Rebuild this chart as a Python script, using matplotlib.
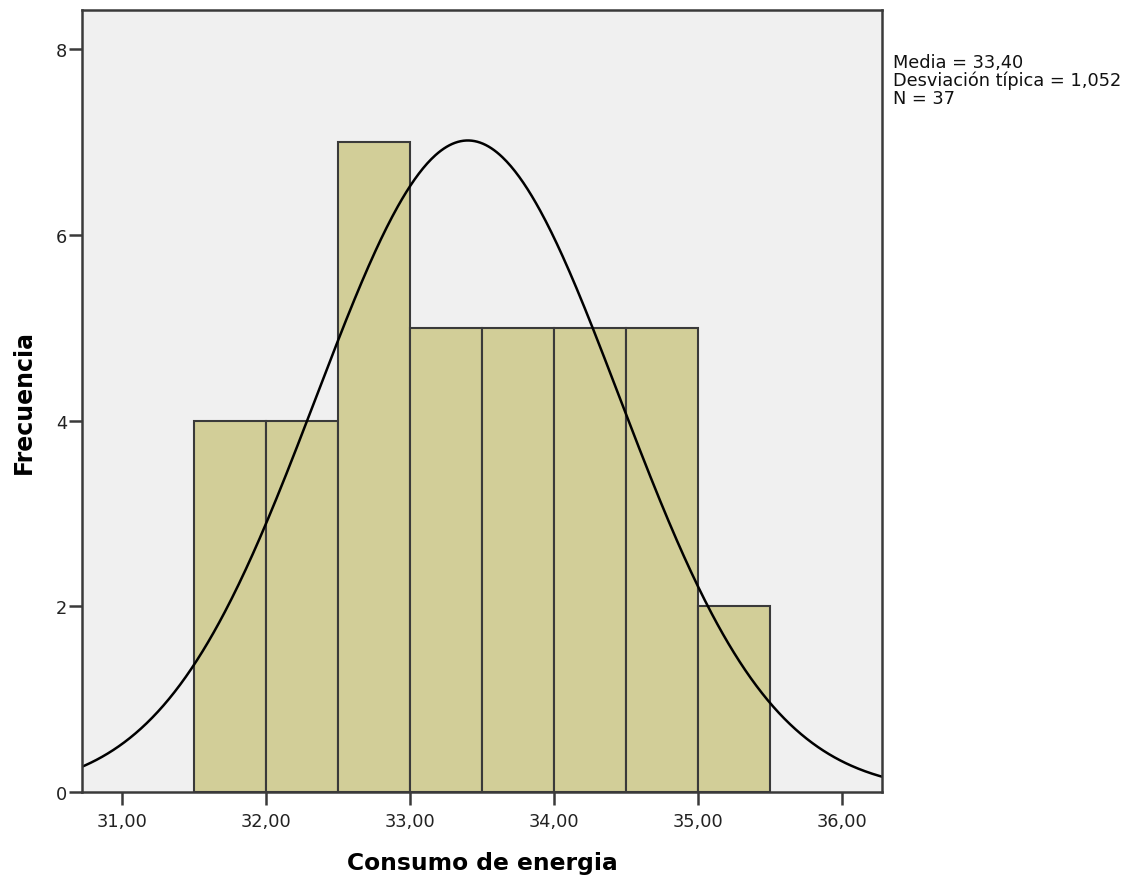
import numpy as np
import matplotlib
matplotlib.use("Agg")
import matplotlib.pyplot as plt

# Histogram of energy consumption with a fitted normal curve
bin_edges = [31.5, 32.0, 32.5, 33.0, 33.5, 34.0, 34.5, 35.0, 35.5]
counts = [4, 4, 7, 5, 5, 5, 5, 2]
mean = 33.40
std = 1.052
n = 37

x_ticks = [31, 32, 33, 34, 35, 36]
x_tick_labels = ["31,00", "32,00", "33,00", "34,00", "35,00", "36,00"]
y_ticks = [0, 2, 4, 6, 8]
y_tick_labels = ["0", "2", "4", "6", "8"]

plt.rcParams["font.family"] = ["DejaVu Sans"]

fig = plt.figure(figsize=(11.34, 8.79), dpi=100)
ax = fig.add_axes([0.072, 0.0975, 0.706, 0.89])
ax.set_facecolor("#F0F0F0")

edges = np.array(bin_edges)
widths = np.diff(edges)
ax.bar(edges[:-1], counts, width=widths, align="edge",
       color="#D2CE98", edgecolor="#3A3A3A", linewidth=1.5, zorder=2)

# Normal curve scaled to counts per bin
bw = widths[0]
xs = np.linspace(30.6, 36.4, 600)
ys = n * bw / (std * np.sqrt(2 * np.pi)) * np.exp(-0.5 * ((xs - mean) / std) ** 2)
ax.plot(xs, ys, color="black", linewidth=1.8, zorder=3)

ax.set_xlim(30.72, 36.276)
ax.set_ylim(0, 8.42)
ax.set_xticks(x_ticks)
ax.set_xticklabels(x_tick_labels)
ax.set_yticks(y_ticks)
ax.set_yticklabels(y_tick_labels)
ax.tick_params(axis="x", length=9, width=1.8, color="#3A3A3A",
               labelsize=12.8, labelcolor="#222222", pad=5)
ax.tick_params(axis="y", length=9.5, width=1.8, color="#3A3A3A",
               labelsize=12.8, labelcolor="#222222", pad=1)
for sp in ax.spines.values():
    sp.set_color("#3A3A3A")
    sp.set_linewidth(1.8)
    sp.set_zorder(4)

ax.set_xlabel("Consumo de energia", fontsize=16.8, fontweight="bold", labelpad=15)
ax.set_ylabel("Frecuencia", fontsize=17, fontweight="bold", labelpad=14)

fig.text(893 / 1134, 1 - 54 / 879,
         "Media = 33,40\nDesviación típica = 1,052\nN = 37",
         fontsize=12.8, va="top", ha="left", linespacing=0.98, color="#111111")

fig.savefig("out.png", dpi=100, facecolor="white")
